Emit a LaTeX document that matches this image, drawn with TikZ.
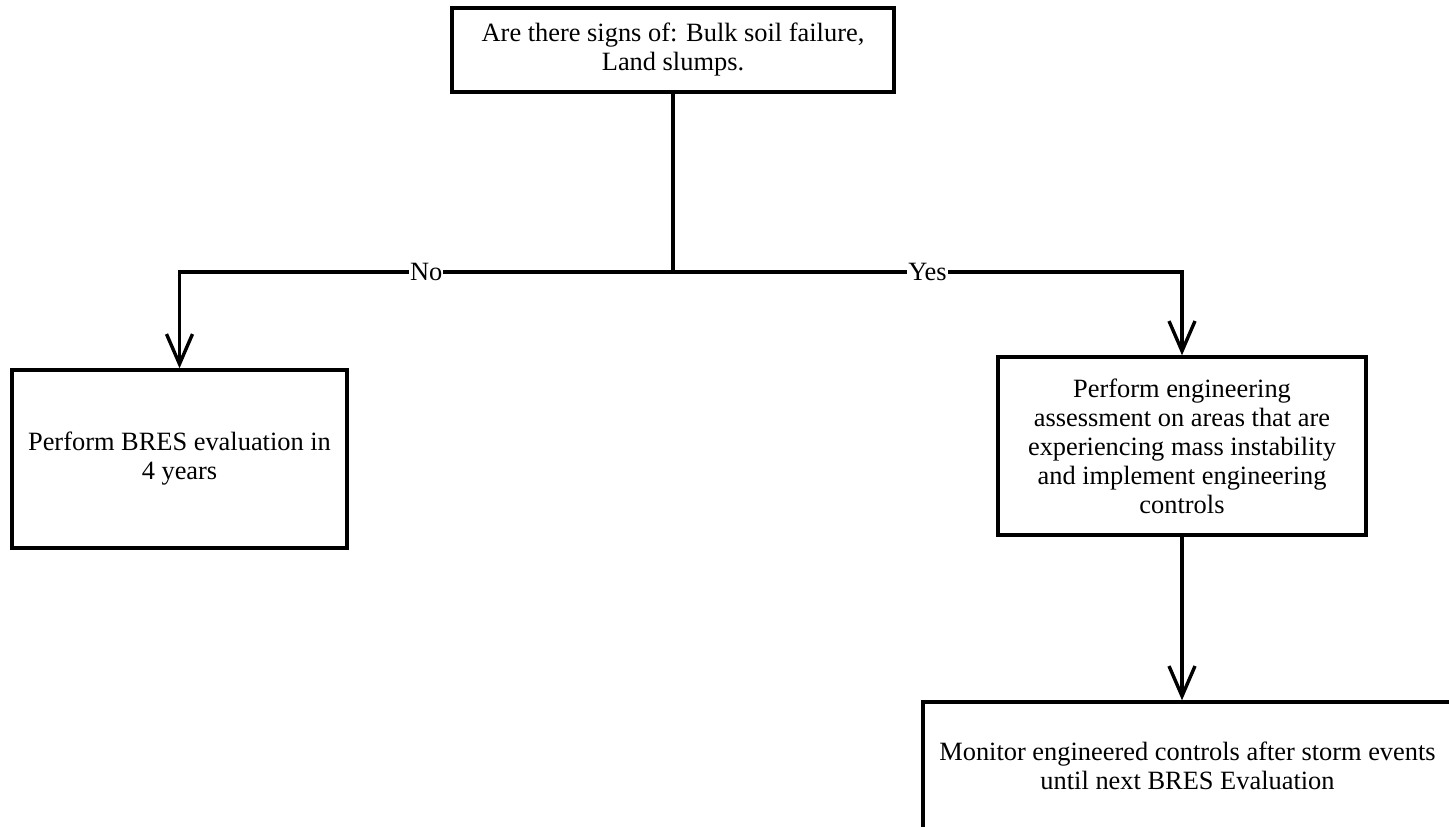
\documentclass[tikz,border=0pt]{standalone}
\usepackage{fontspec}
\setmainfont{Liberation Serif}
\usepackage{tikz}
\usetikzlibrary{arrows.meta,positioning,calc}

\begin{document}
\begin{tikzpicture}[x=0.5pt, y=-0.5pt, line width=1.7pt,
    every node/.style={font=\fontsize{13.2}{14.5}\selectfont},
    box/.style={rectangle, draw, align=flush center, inner sep=4pt},
    arr/.style={-{Straight Barb[length=15pt, width=13pt]}},
    lbl/.style={fill=white, inner sep=0.5pt}]
  \useasboundingbox (0,0) rectangle (1449,826);
  \clip (0,0) rectangle (1449,826);
  \node (q) at (673,50) [box, minimum width=221pt, minimum height=42pt, text width=205pt] {Are there signs of: Bulk soil failure, Land slumps.};
  \node (eval) at (179.5,459) [box, minimum width=167.5pt, minimum height=89pt, text width=157pt] {Perform BRES evaluation in 4 years};
  \node (assess) at (1182,446) [box, minimum width=184pt, minimum height=89pt, text width=163pt] {Perform engineering assessment on areas that are experiencing mass instability and implement engineering controls};
  \node (monitor) at (1187.5,766) [box, minimum width=264.5pt, minimum height=64pt, text width=255pt] {Monitor engineered controls after storm events until next BRES Evaluation};
  \coordinate (split) at (673,272);
  \draw (q) -- (split);
  \draw[arr] (split) -| node[lbl, pos=.25] {No} (eval);
  \draw[arr] (split) -| node[lbl, pos=.25] {Yes} (assess);
  \draw[arr] (assess) -- (assess |- monitor.north);
\end{tikzpicture}
\end{document}
